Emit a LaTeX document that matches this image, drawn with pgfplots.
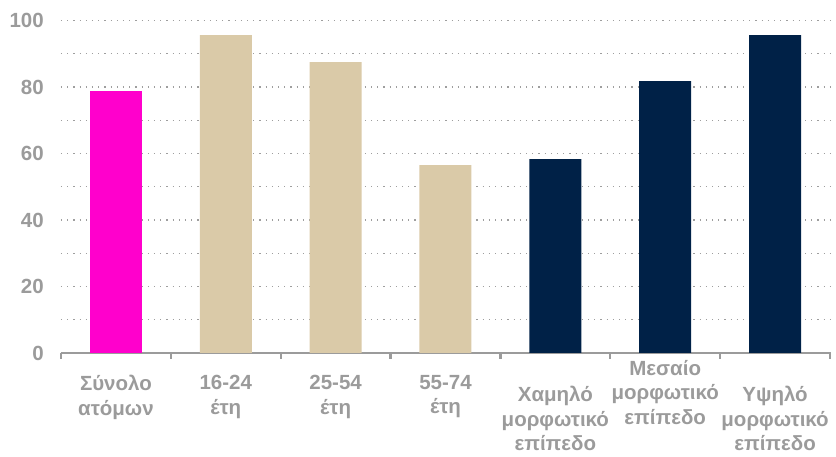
\documentclass[border=0pt]{standalone}
\usepackage{pgfplots}
\pgfplotsset{compat=1.18}
\usepackage{fontspec}
\setmainfont{Liberation Sans}
\definecolor{txt}{HTML}{9B9B9B}
\definecolor{mag}{HTML}{FF00CC}
\definecolor{beige}{HTML}{DACAA8}
\definecolor{navy}{HTML}{002147}
\definecolor{gridc}{HTML}{9E9E9E}
\begin{document}
\begin{tikzpicture}
\path[use as bounding box] (-61pt,-104pt) rectangle (775pt,353pt);
\begin{axis}[
  at={(0pt,0pt)}, anchor=south west,
  scale only axis, width=769pt, height=332.5pt,
  xmin=-0.5, xmax=6.5, ymin=0, ymax=100,
  axis lines*=left,
  y axis line style={draw=none},
  x axis line style={txt, line width=2.7pt},
  ytick={0,10,...,100},
  yticklabels={0,,20,,40,,60,,80,,100},
  ymajorgrids,
  grid style={gridc, line width=1.2pt, dash pattern=on 1.2pt off 5pt},
  ytick style={draw=none},
  xtick={-0.5,0.5,...,6.5},
  x tick label as interval,
  xtick style={txt, line width=2.2pt},
  major tick length=6pt,
  tick align=outside,
  xticklabels={{Σύνολο\\ατόμων},{16-24\\έτη},{25-54\\έτη},{55-74\\έτη},{Χαμηλό\\μορφωτικό\\επίπεδο},{Μεσαίο\\μορφωτικό\\επίπεδο},{Υψηλό\\μορφωτικό\\επίπεδο}},
  xticklabel style={font=\fontsize{20.5}{24.5}\selectfont\bfseries, text=txt, align=center, anchor=north, inner sep=0pt,
    yshift={-16+15*(\ticknum==5)-11*((\ticknum==4)+(\ticknum==6))}},
  yticklabel style={font=\fontsize{20.5}{22}\selectfont\bfseries, text=txt, anchor=east, inner sep=0pt, xshift=-11pt},
  /pgf/number format/assume math mode=true,
]
\addplot[ybar, bar width=52pt, bar shift=0pt, fill=mag, draw=none] coordinates {(0,78.8)};
\addplot[ybar, bar width=52pt, bar shift=0pt, fill=beige, draw=none] coordinates {(1,95.6) (2,87.5) (3,56.5)};
\addplot[ybar, bar width=52pt, bar shift=0pt, fill=navy, draw=none] coordinates {(4,58.3) (5,81.8) (6,95.6)};
\end{axis}
\end{tikzpicture}
\end{document}
